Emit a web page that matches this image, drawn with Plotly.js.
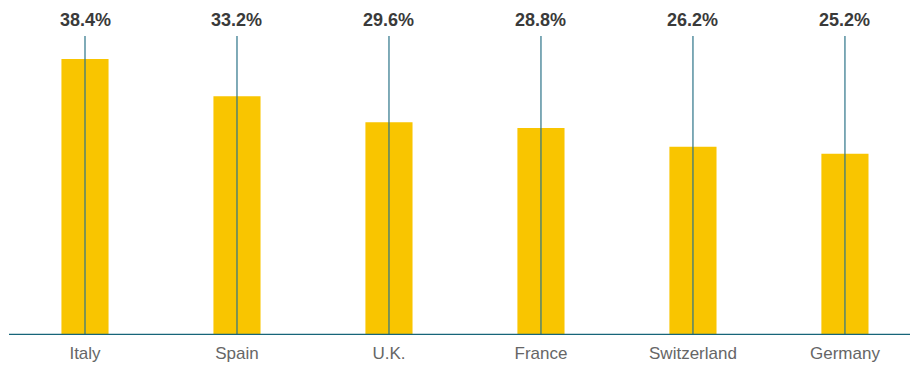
<!DOCTYPE html>
<html>
<head>
<meta charset="utf-8">
<script src="https://cdn.plot.ly/plotly-3.0.1.min.js"></script>
<style>html,body{margin:0;padding:0;background:#fff;}#chart{width:910px;height:365px;}</style>
</head>
<body>
<div id="chart"></div>
<script>
const categories = ["Italy", "Spain", "U.K.", "France", "Switzerland", "Germany"];
const values = [38.4, 33.2, 29.6, 28.8, 26.2, 25.2];
const valueLabels = ["38.4%", "33.2%", "29.6%", "28.8%", "26.2%", "25.2%"];
const markerLineTop = 41.6;

const lineX = [], lineY = [];
categories.forEach(c => { lineX.push(c, c, null); lineY.push(0, markerLineTop, null); });

const traces = [
  {
    type: "bar", x: categories, y: values,
    marker: {color: "#F9C500"}, width: 0.31, hoverinfo: "none"
  },
  {
    type: "scatter", mode: "lines", x: lineX, y: lineY,
    line: {color: "#2b7388", width: 1.2}, hoverinfo: "none"
  }
];

const annotations = categories.map((c, i) => ({
  x: c, y: 0.94, xref: "x", yref: "paper", text: valueLabels[i], showarrow: false,
  font: {family: "Liberation Sans, Arial, sans-serif", size: 18, color: "#3a3a3a", weight: "bold"},
  xanchor: "center", yanchor: "middle"
}));

const layout = {
  width: 910, height: 365,
  margin: {l: 9, r: 0, t: 0, b: 30},
  paper_bgcolor: "#fff", plot_bgcolor: "#fff",
  showlegend: false,
  xaxis: {
    type: "category", range: [-0.5, 5.428], showgrid: false, zeroline: false,
    showline: false, ticks: "", ticklabelstandoff: 6,
    tickfont: {family: "Liberation Sans, Arial, sans-serif", size: 17, color: "#666"}
  },
  yaxis: {range: [0, 46.6], showgrid: false, zeroline: false, showticklabels: false, showline: false, ticks: ""},
  shapes: [{type: "line", xref: "paper", yref: "y", x0: 0, x1: 1, y0: 0, y1: 0, line: {color: "#17657a", width: 2.4}}],
  annotations: annotations
};

Plotly.newPlot("chart", traces, layout, {displayModeBar: false, staticPlot: true});
</script>
</body>
</html>
